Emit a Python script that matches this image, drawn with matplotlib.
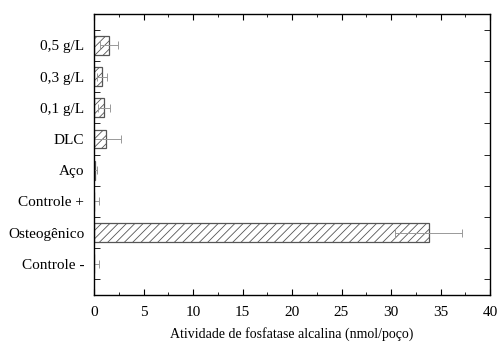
import matplotlib
matplotlib.use('Agg')
import matplotlib.pyplot as plt
from matplotlib.ticker import MultipleLocator, FixedLocator

plt.rcParams['font.family'] = ['Liberation Serif', 'DejaVu Serif']
plt.rcParams['hatch.color'] = '#aaaaaa'
plt.rcParams['hatch.linewidth'] = 0.6

grupos = ['Controle -', 'Osteogênico', 'Controle +', 'Aço', 'DLC', '0,1 g/L', '0,3 g/L', '0,5 g/L']
atividade = [0.05, 33.8, 0.05, 0.1, 1.2, 1.05, 0.8, 1.5]
erro = [0.45, 3.4, 0.45, 0.25, 1.5, 0.6, 0.5, 0.9]

fig = plt.figure(figsize=(5, 3.45), dpi=100)
ax = fig.add_axes([0.188, 0.145, 0.792, 0.814])

pos = range(len(grupos))
ax.barh(pos, atividade, height=0.6, color='white', edgecolor='#555555',
        linewidth=0.9, hatch='////')
ax.errorbar(atividade, pos, xerr=erro, fmt='none', ecolor='#999999',
            elinewidth=0.7, capsize=3, capthick=0.7)

ax.set_xlim(0, 40)
ax.set_ylim(-1, 8)
ax.xaxis.set_major_locator(MultipleLocator(5))
ax.xaxis.set_minor_locator(MultipleLocator(2.5))
ax.set_yticks(list(pos))
ax.set_yticklabels(grupos)
ax.yaxis.set_minor_locator(FixedLocator([i - 0.5 for i in range(len(grupos) + 1)]))
ax.tick_params(axis='y', which='major', length=0, labelsize=11, pad=7)
ax.tick_params(axis='y', which='minor', length=4, direction='in', left=True, right=True)
ax.tick_params(axis='x', which='major', length=4, direction='in', top=True, labelsize=11, pad=8)
ax.tick_params(axis='x', which='minor', length=2, direction='in', top=True)
for s in ax.spines.values():
    s.set_linewidth(1.0)

ax.set_xlabel('Atividade de fosfatase alcalina (nmol/poço)', fontsize=10, labelpad=6)

fig.savefig('out.png', dpi=100)
